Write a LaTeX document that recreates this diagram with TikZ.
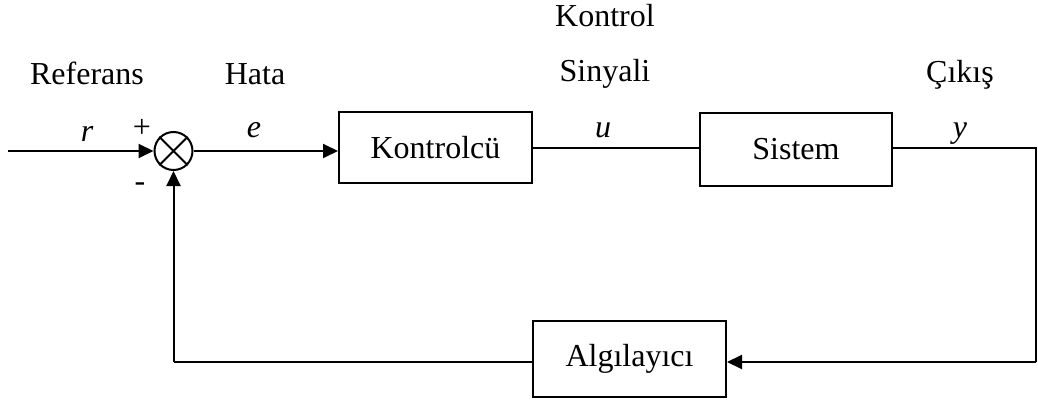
\documentclass[tikz,border=0pt]{standalone}
\usepackage{fontspec}
\setmainfont{Liberation Serif}
\usetikzlibrary{arrows.meta}
\begin{document}
\begin{tikzpicture}[x=1pt,y=-1pt,
  every node/.style={font=\fontsize{32}{38}\selectfont},
  blk/.style={draw,line width=2pt,inner sep=0pt},
  lbl/.style={inner sep=0pt,anchor=base},
  conn/.style={line width=2pt},
  arr/.style={conn,-{Triangle[length=15pt,width=14pt]}}]
\useasboundingbox (0,0) rectangle (1038,401);
\coordinate (in) at (8,151);
\node[draw,circle,line width=2pt,minimum size=38pt,inner sep=0pt] (sum) at (173.5,151) {};
\draw[line width=2pt] (sum.45) -- (sum.225) (sum.135) -- (sum.315);
\node[blk,minimum width=193pt,minimum height=71pt] (ctrl) at (435.5,147.5) {Kontrolcü};
\node[blk,minimum width=192pt,minimum height=73pt] (sys) at (796,149.5) {Sistem};
\node[blk,minimum width=193pt,minimum height=76pt] (sen) at (629.5,359) {Algılayıcı};
\coordinate (rc) at (1036,148);
\coordinate (rb) at (1036,362);
\coordinate (lb) at (173.5,362);
\draw[arr] (in) -- (sum.west);
\draw[arr] (sum.east) -- (sum.east -| ctrl.west);
\draw[conn] (ctrl.east |- 0,148) -- (sys.west |- 0,148);
\draw[conn] (sys.east |- rc) -- (rc) -- (rb);
\draw[arr] (rb) -- (sen.east |- rb);
\draw[conn] (sen.west |- lb) -- (lb);
\draw[arr] (lb) -- (sum.south);
\node[lbl] (t1) at (87,85) {Referans};
\node[lbl] (t2) at (255,85) {Hata};
\node[lbl] (t3) at (605,27) {Kontrol};
\node[lbl] (t4) at (605,82) {Sinyali};
\node[lbl] (t5) at (960,83) {Çıkış};
\node[lbl] (lr) at (87,141) {\itshape r};
\node[lbl] (le) at (254,137) {\itshape e};
\node[lbl] (lu) at (603,137) {\itshape u};
\node[lbl] (ly) at (960,137) {\itshape y};
\node[lbl,anchor=center] (lp) at (142,128) {+};
\node[lbl,anchor=center] (lm) at (140,187) {-};
\end{tikzpicture}
\end{document}
